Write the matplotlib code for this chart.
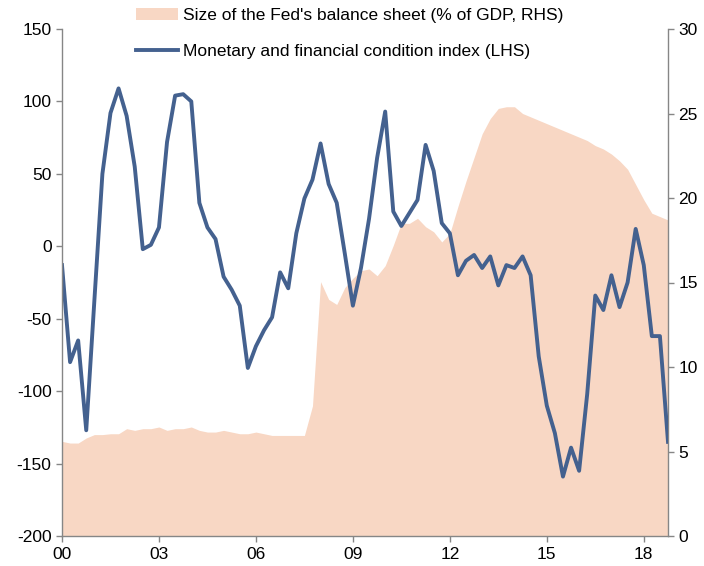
import numpy as np
import matplotlib
matplotlib.use("Agg")
import matplotlib.pyplot as plt

plt.rcParams['font.family'] = ['Liberation Sans', 'DejaVu Sans']
plt.rcParams['axes.unicode_minus'] = False

# quarterly, 2000Q1 .. 2018Q4
start_year = 2000
tick_years = [2000, 2003, 2006, 2009, 2012, 2015, 2018]
tick_labels = ['00', '03', '06', '09', '12', '15', '18']

# Monetary and financial condition index (LHS)
mfci = [-13, -80, -65, -127, -38, 50, 92, 109, 90, 55,
        -2, 1, 13, 72, 104, 105, 100, 30, 13, 5,
        -21, -30, -41, -84, -69, -58, -49, -18, -29, 9,
        33, 46, 71, 43, 30, -5, -41, -15, 19, 61,
        93, 24, 14, 23, 32, 70, 52, 16, 9, -20,
        -10, -6, -15, -7, -27, -13, -15, -7, -20, -76,
        -110, -129, -159, -139, -155, -102, -34, -44, -20, -42,
        -25, 12, -13, -62, -62, -135]

# Size of the Fed's balance sheet, % of GDP (RHS)
fed_bs = [5.6, 5.5, 5.5, 5.8, 6.0, 6.0, 6.05, 6.05, 6.35, 6.25,
          6.35, 6.35, 6.45, 6.25, 6.35, 6.35, 6.45, 6.25, 6.15, 6.15,
          6.25, 6.15, 6.05, 6.05, 6.15, 6.05, 5.95, 5.95, 5.95, 5.95,
          5.95, 7.7, 15.05, 14.0, 13.7, 14.7, 15.25, 15.7, 15.8, 15.4,
          16.0, 17.2, 18.5, 18.5, 18.8, 18.3, 18.0, 17.4, 17.9, 19.5,
          21.0, 22.4, 23.8, 24.7, 25.3, 25.4, 25.4, 25.0, 24.8, 24.6,
          24.4, 24.2, 24.0, 23.8, 23.6, 23.4, 23.1, 22.9, 22.6, 22.2,
          21.7, 20.8, 19.9, 19.1, 18.9, 18.7]

x = start_year + np.arange(len(mfci)) * 0.25

line_color = '#44618F'
area_color = '#F8D7C4'
spine_color = '#868686'

fig = plt.figure(figsize=(7.04, 5.66), dpi=100)
ax = fig.add_axes([62 / 704, 1 - 536 / 566, (668 - 62) / 704, (536 - 29) / 566])
ax2 = ax.twinx()

area = ax2.fill_between(x, 0, fed_bs, color=area_color, linewidth=0,
                        label="Size of the Fed's balance sheet (% of GDP, RHS)")
line, = ax.plot(x, mfci, color=line_color, linewidth=2.8,
                label='Monetary and financial condition index (LHS)')

# line axis above the area axis
ax.set_zorder(ax2.get_zorder() + 1)
ax.patch.set_visible(False)

ax.set_xlim(2000, 2018.75)
ax.set_ylim(-200, 150)
ax2.set_ylim(0, 30)
ax.set_yticks(np.arange(-200, 151, 50))
ax2.set_yticks(np.arange(0, 31, 5))
ax.set_xticks(tick_years)
ax.set_xticklabels(tick_labels)

for a in (ax, ax2):
    a.spines['top'].set_visible(False)
    for s in ('left', 'right', 'bottom'):
        a.spines[s].set_color(spine_color)
        a.spines[s].set_linewidth(1.0)
    a.tick_params(axis='both', direction='out', length=4, width=1.0,
                  color=spine_color, labelsize=12.5, labelcolor='black')
ax.spines['right'].set_visible(False)
ax2.spines['left'].set_visible(False)
ax2.spines['bottom'].set_visible(False)
ax.tick_params(axis='x', pad=4)

fig.legend([area, line],
           [area.get_label(), line.get_label()],
           loc='upper left', bbox_to_anchor=(136 / 704, 1 - 8 / 566),
           frameon=False, fontsize=12.5, handlelength=2.4,
           handletextpad=0.3, labelspacing=1.2, borderpad=0,
           borderaxespad=0)

fig.savefig('out.png', dpi=100)
